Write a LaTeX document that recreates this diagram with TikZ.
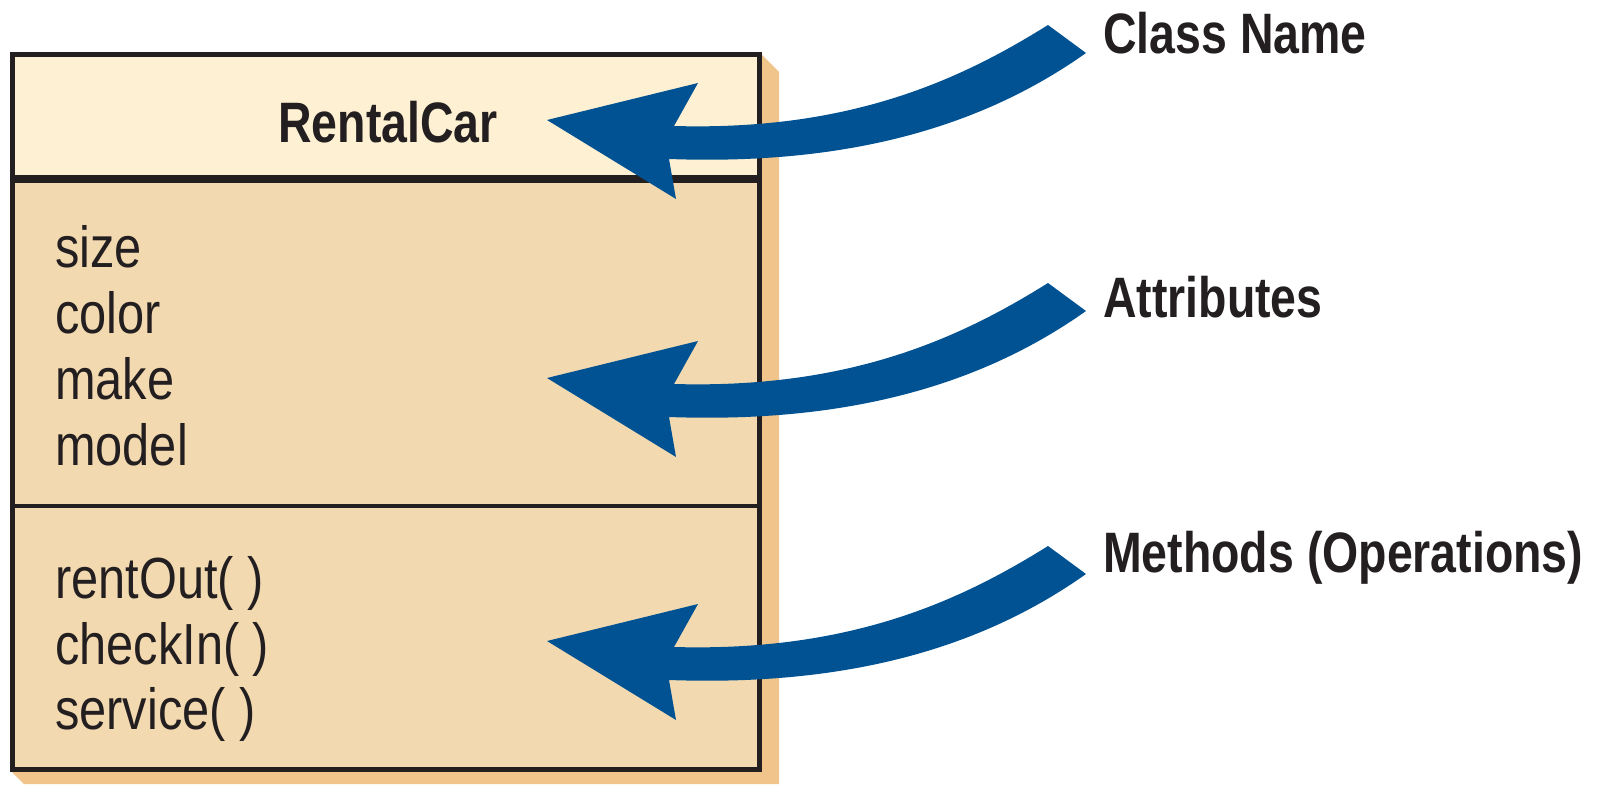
\documentclass[tikz,border=0pt]{standalone}
\usepackage{fontspec}
\setmainfont{Liberation Sans}
\newfontfamily\condR{Liberation Sans}[FakeStretch=0.84]
\newfontfamily\condB{Liberation Sans}[FakeStretch=0.815]
\definecolor{hdrc}{HTML}{FEF0D2}
\definecolor{bodyc}{HTML}{F2D9B0}
\definecolor{shadowc}{HTML}{F0C48A}
\definecolor{bordc}{HTML}{231F20}
\definecolor{arrowc}{HTML}{005293}
\tikzset{
  boldtxt/.style={inner sep=0pt, text=bordc, font=\condB\bfseries\fontsize{57}{66}\selectfont},
  regtxt/.style={inner sep=0pt, anchor=base west, text=bordc, font=\condR\fontsize{58}{66}\selectfont},
  arrowshape/.style={fill=arrowc},
}
\newcommand{\umlarrow}[2]{%
  \fill[arrowshape, shift={(0,#1)}] (547,120) coordinate (#2tip) -- (698,83) -- (674,126)
    .. controls (850,131) and (960,80) .. (1048,25) coordinate (#2tail) -- (1086,53)
    .. controls (990,121) and (860,166) .. (669,159) -- (676,199) -- cycle;}
\begin{document}
\begin{tikzpicture}[x=1pt,y=-1pt]
\useasboundingbox (0,0) rectangle (1608,784);
% shadow
\fill[shadowc] (759,52) -- (779,72) -- (779,784) -- (24,784) -- (12,772) -- cycle;
% compartments
\fill[bodyc] (12.5,179) rectangle (759,769.5);
\fill[hdrc] (12.5,54.5) rectangle (759,179);
\draw[line width=8pt, bordc] (12.5,179) -- (759,179);
\draw[line width=4pt, bordc] (12.5,505.6) -- (759,505.6);
\draw[line width=5pt, bordc] (12.5,54.5) rectangle (759,769.5);
% texts
\node[boldtxt, anchor=base] (title) at (388,142) {RentalCar};
\node[regtxt] (a1) at (55,267) {size};
\node[regtxt] (a2) at (55,333) {color};
\node[regtxt] (a3) at (55,399) {make};
\node[regtxt] (a4) at (55,465) {model};
\node[regtxt] (m1) at (55,598) {rentOut( )};
\node[regtxt] (m2) at (55,664) {checkIn( )};
\node[regtxt] (m3) at (55,729) {service( )};
% labels
\node[boldtxt, anchor=base west] (lclass) at (1103,53) {Class Name};
\node[boldtxt, anchor=base west] (lattr) at (1103,317) {Attributes};
\node[boldtxt, anchor=base west] (lmeth) at (1103,572) {Methods (Operations)};
% arrows
\umlarrow{0}{c}
\umlarrow{258}{a}
\umlarrow{521}{m}
\end{tikzpicture}
\end{document}
